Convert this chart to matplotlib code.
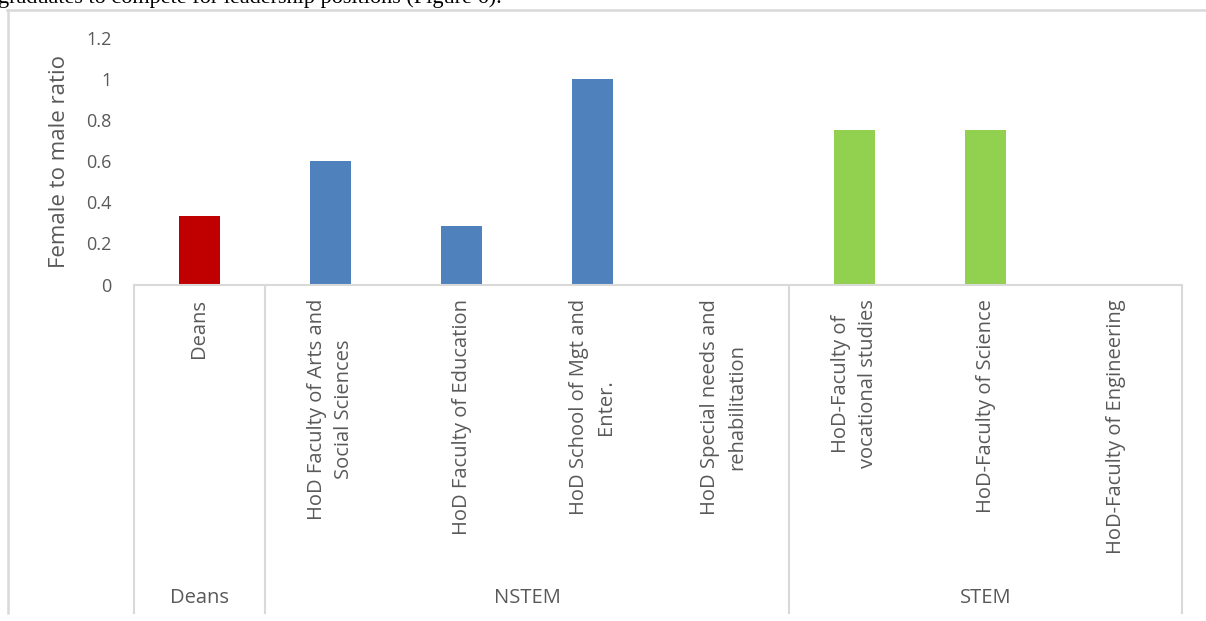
import matplotlib.pyplot as plt
from matplotlib.lines import Line2D
from matplotlib.transforms import blended_transform_factory

# female to male ratio per post
posts = ['Deans',
         'HoD Faculty of Arts and\nSocial Sciences',
         'HoD Faculty of Education',
         'HoD School of Mgt and\nEnter.',
         'HoD Special needs and\nrehabilitation',
         'HoD-Faculty of\nvocational studies',
         'HoD-Faculty of Science',
         'HoD-Faculty of Engineering']
ratios = [0.333, 0.6, 0.286, 1.0, 0.0, 0.75, 0.75, 0.0]
groups = ['Deans', 'NSTEM', 'STEM']
group_sizes = [1, 4, 3]
group_colors = ['#c00000', '#4f81bd', '#92d050']
yticks = [0, 0.2, 0.4, 0.6, 0.8, 1, 1.2]

W, H = 1206, 621
txt = '#595959'
grid = '#d9d9d9'
font = 'Open Sans'

fig = plt.figure(figsize=(W / 100, H / 100), dpi=100)
ax = fig.add_axes([134 / W, 1 - 284.5 / H, (1182 - 134) / W, (284.5 - 38) / H])

colors = []
for c, n in zip(group_colors, group_sizes):
    colors += [c] * n
x = list(range(len(posts)))
ax.bar(x, ratios, width=0.31, color=colors, zorder=2)

ax.set_xlim(-0.5, len(posts) - 0.5)
ax.set_ylim(0, 1.2)
ax.set_yticks(yticks)
ax.set_yticklabels(['0', '0.2', '0.4', '0.6', '0.8', '1', '1.2'],
                   family=font, fontsize=13, color=txt)
ax.tick_params(axis='y', length=0, pad=16)
ax.set_xticks([])
for s in ['top', 'right', 'left']:
    ax.spines[s].set_visible(False)
ax.spines['bottom'].set_color(grid)
ax.spines['bottom'].set_linewidth(1.5)

ax.set_ylabel('Female to male ratio', family=font, fontsize=16, color=txt)
ax.yaxis.set_label_coords((70 - 134) / (1182 - 134), 0.5)

# category labels and group boxes below the axis
tr = blended_transform_factory(ax.transData, fig.transFigure)
for xi, lab in zip(x, posts):
    ax.text(xi, 1 - 299 / H, lab, rotation=90, ha='center', va='top',
            multialignment='center', family=font, fontsize=14.5,
            color=txt, transform=tr, linespacing=1.45)

edges = [-0.5]
for n in group_sizes:
    edges.append(edges[-1] + n)
for e in edges:
    ax.add_line(Line2D([e, e], [1 - 284.5 / H, 1 - 613 / H], color=grid,
                       lw=1.5, transform=tr, clip_on=False))
for g, a, b in zip(groups, edges[:-1], edges[1:]):
    ax.text((a + b) / 2, 1 - 598 / H, g, ha='center', va='center',
            family=font, fontsize=14.5, color=txt, transform=tr)

# frame around the chart area
fig.add_artist(Line2D([7.5 / W, 7.5 / W], [1 - 9.5 / H, 1 - 613 / H],
                      color=grid, lw=1.8, transform=fig.transFigure))
fig.add_artist(Line2D([7 / W, 1205 / W], [1 - 9.5 / H, 1 - 9.5 / H],
                      color=grid, lw=1.8, transform=fig.transFigure))

# tail of the preceding line of body text
fig.text(-2 / W, 1 - 3 / H, 'graduates to compete for leadership positions (Figure 6).',
         family='Liberation Serif', fontsize=16, color='black', va='baseline')

fig.savefig('out.png', dpi=100, facecolor='white')
